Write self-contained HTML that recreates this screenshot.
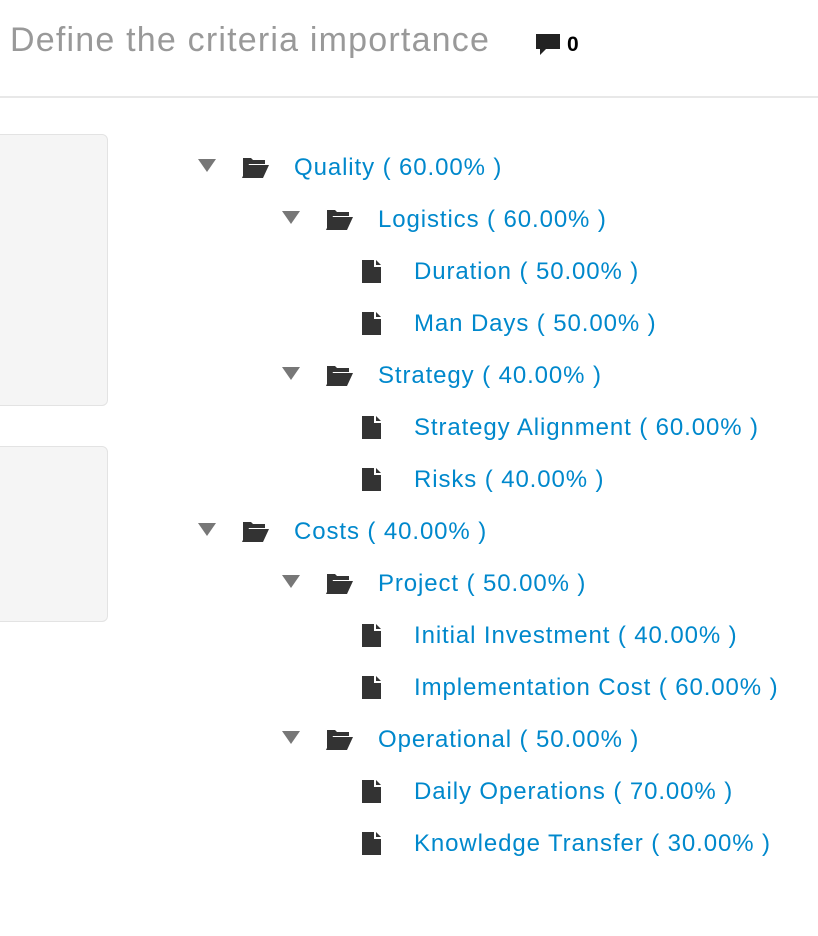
<!DOCTYPE html>
<html><head><style>
body{margin:0;width:818px;height:936px;background:#fff;position:relative;overflow:hidden;font-family:"Liberation Sans",Arial,sans-serif}
.t{position:absolute;left:10px;top:21px;font-size:34px;letter-spacing:1.2px;color:#999;white-space:nowrap}
.hr{position:absolute;left:0;top:96px;width:818px;height:2px;background:#e8e8e8}
.box{position:absolute;left:-10px;width:116px;background:#f5f5f5;border:1px solid #e3e3e3;border-radius:6px}
.r{position:absolute;height:30px;white-space:nowrap}
.r span{position:absolute;font-size:24px;letter-spacing:0.9px;color:#0088cc;top:0;line-height:30px}
svg{position:absolute}
</style></head><body>
<div class="t">Define the criteria importance</div>
<svg style="left:536px;top:34px" width="26" height="24" viewBox="0 0 26 24"><path d="M0 0H24V15H10L4 21V15H0Z" fill="#222"/></svg>
<div style="position:absolute;left:567px;top:33px;font-size:21px;font-weight:bold;color:#000">0</div>
<div class="hr"></div>
<div class="box" style="top:134px;height:270px"></div>
<div class="box" style="top:446px;height:174px"></div>
<div id="tree"></div>
<script>
var rows=[[0,"Quality ( 60.00% )"],[1,"Logistics ( 60.00% )"],[2,"Duration ( 50.00% )"],[2,"Man Days ( 50.00% )"],[1,"Strategy ( 40.00% )"],[2,"Strategy Alignment ( 60.00% )"],[2,"Risks ( 40.00% )"],[0,"Costs ( 40.00% )"],[1,"Project ( 50.00% )"],[2,"Initial Investment ( 40.00% )"],[2,"Implementation Cost ( 60.00% )"],[1,"Operational ( 50.00% )"],[2,"Daily Operations ( 70.00% )"],[2,"Knowledge Transfer ( 30.00% )"]];
var h="";
rows.forEach(function(r,i){var cy=167+52*i;var l=r[0];
if(l<2){var tx=l?282:198,fx=l?326:242,x=l?378:294;
h+='<svg style="left:'+tx+'px;top:'+(cy-8)+'px" width="18" height="13"><path d="M0 0H18L9 13Z" fill="#777"/></svg>';
h+='<svg style="left:'+fx+'px;top:'+(cy-11)+'px" width="27" height="22" viewBox="0 0 27 22"><path d="M1 2H9L11 4H23V8H7L1 21Z" fill="#333"/><path d="M6 9H27L21 22H0Z" fill="#333"/></svg>';
h+='<div class="r" style="left:'+x+'px;top:'+(cy-14)+'px"><span>'+r[1]+'</span></div>';}
else{h+='<svg style="left:362px;top:'+(cy-11)+'px" width="20" height="23" viewBox="0 0 20 23"><path d="M0 0H12V7H19V23H0Z" fill="#333"/><path d="M14 0L19 5H14Z" fill="#333"/></svg>';
h+='<div class="r" style="left:414px;top:'+(cy-14)+'px"><span>'+r[1]+'</span></div>';}
});
document.getElementById("tree").innerHTML=h;
</script>
</body></html>
